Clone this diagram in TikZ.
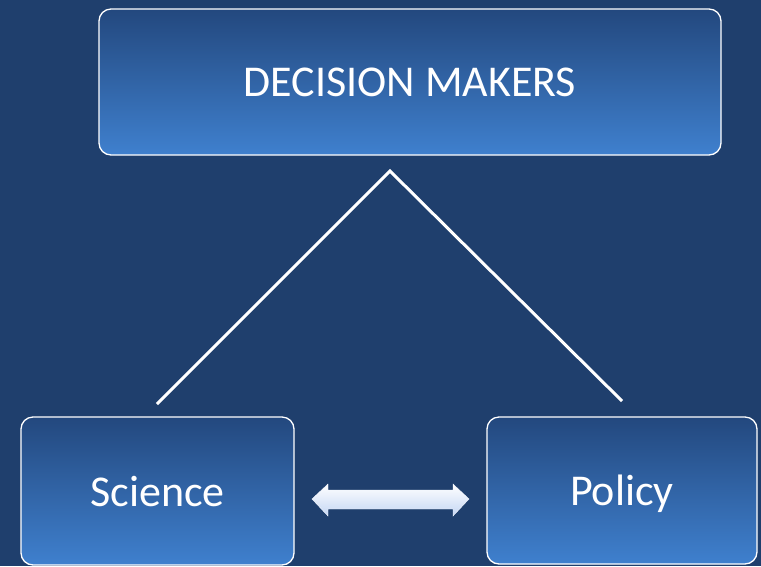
\documentclass[tikz,border=0pt]{standalone}
\usepackage{fontspec}
\setmainfont{Carlito}
\begin{document}
\definecolor{bgblue}{HTML}{1F3F6D}
\definecolor{boxtop}{HTML}{23487E}
\definecolor{boxbot}{HTML}{3F80CE}
\definecolor{arrowbot}{HTML}{C4D6F4}
\begin{tikzpicture}[x=1pt,y=-1pt,
  card/.style={draw=white, line width=1.3pt, rounded corners=12pt,
    top color=boxtop, bottom color=boxbot, text=white,
    font=\fontsize{44}{48}\selectfont, inner sep=0pt, text depth=0pt},
  link/.style={draw=white, line width=3pt}]
  \fill[bgblue] (0,0) rectangle (761,566);
  \useasboundingbox (0,0) rectangle (761,566);
  % boxes
  \node[card, minimum width=622pt, minimum height=146pt] (dm) at (410,82) {DECISION MAKERS};
  \node[card, minimum width=273pt, minimum height=148pt] (sci) at (157.5,491) {Science};
  \node[card, minimum width=270pt, minimum height=147pt] (pol) at (622,490.5) {Policy};
  % connector lines
  \coordinate (apex) at (390,171);
  \coordinate (sciTop) at (157,404);
  \coordinate (polTop) at (622,401);
  \draw[link] (sciTop) -- (apex) -- (polTop);
  % double arrow between science and policy
  \shade[top color=white, bottom color=arrowbot, draw=white!80!arrowbot, line width=0.4pt]
    (312,499) -- (328,484) -- (328,490) -- (453,490) -- (453,484) -- (469,499)
    -- (453,516) -- (453,509) -- (328,509) -- (328,516) -- cycle;
\end{tikzpicture}
\end{document}
